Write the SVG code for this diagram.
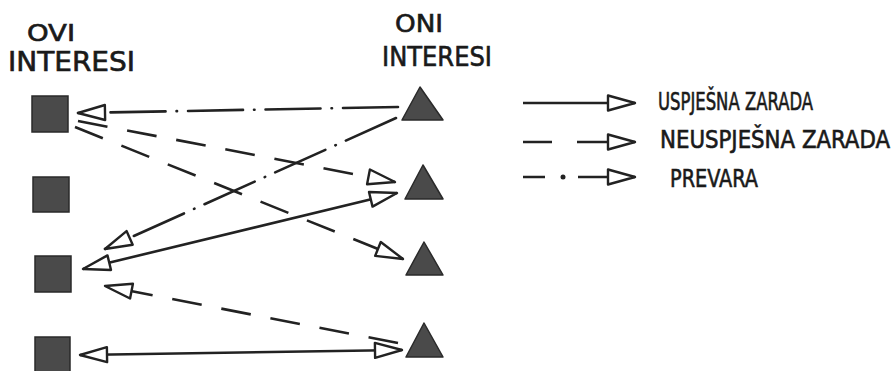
<svg xmlns="http://www.w3.org/2000/svg" width="895" height="371" viewBox="0 0 895 371">
<style>
  .lbl{font-family:"DejaVu Sans Condensed","DejaVu Sans",sans-serif;fill:#1a1a1a;stroke:#1a1a1a;stroke-width:0.6}
  .sq{fill:#4a4a4a;stroke:#2a2a2a;stroke-width:1.5}
  .tri{fill:#4a4a4a;stroke:#2a2a2a;stroke-width:1.5;stroke-linejoin:round}
  .c{fill:none;stroke:#222;stroke-width:2.6}
  .dash{stroke-dasharray:30 20}
  .dd{stroke-dasharray:55 11 0.5 11;stroke-linecap:round}
</style>
<defs>
  <marker id="ah" markerUnits="userSpaceOnUse" markerWidth="40" markerHeight="24" refX="32" refY="12" orient="auto-start-reverse" overflow="visible">
    <path d="M32,12 L5,4.5 L5,19.5 Z" fill="#fff" stroke="#222" stroke-width="2.4" stroke-linejoin="round"/>
  </marker>
</defs>

<g id="title-ovi">
  <text class="lbl" x="27" y="41" font-size="23" textLength="48" lengthAdjust="spacingAndGlyphs">OVI</text>
  <text class="lbl" x="8" y="71" font-size="27" textLength="127" lengthAdjust="spacingAndGlyphs">INTERESI</text>
</g>
<g id="title-oni">
  <text class="lbl" x="395" y="32" font-size="25" textLength="48" lengthAdjust="spacingAndGlyphs">ONI</text>
  <text class="lbl" x="382" y="66" font-size="27" textLength="110" lengthAdjust="spacingAndGlyphs">INTERESI</text>
</g>

<g id="s1"><rect class="sq" x="32" y="96" width="36" height="36"/></g>
<g id="s2"><rect class="sq" x="33" y="177" width="36" height="35"/></g>
<g id="s3"><rect class="sq" x="35" y="256" width="36" height="36"/></g>
<g id="s4"><rect class="sq" x="35" y="337" width="35" height="36"/></g>

<g id="t1"><polygon class="tri" points="420,87 402,120 443,120"/></g>
<g id="t2"><polygon class="tri" points="423,165 405,199 443,199"/></g>
<g id="t3"><polygon class="tri" points="424,242 406,275 443,275"/></g>
<g id="t4"><polygon class="tri" points="424,323 406,357 443,357"/></g>

<g id="connectors">
  <path class="c dd" d="M398,107 L78,113" marker-end="url(#ah)"/>
  <path class="c dash" d="M78,121 L395,182" marker-end="url(#ah)"/>
  <path class="c dash" d="M75,127 L403,259" marker-end="url(#ah)"/>
  <path class="c dd" d="M396,118 L105,249" marker-end="url(#ah)"/>
  <path class="c" d="M83,269 L397,193" marker-start="url(#ah)" marker-end="url(#ah)"/>
  <path class="c dash" d="M398,343 L105,286" marker-end="url(#ah)"/>
  <path class="c" d="M80,355 L402,350" marker-start="url(#ah)" marker-end="url(#ah)"/>
</g>

<g id="legend">
  <g id="leg-solid">
    <path class="c" d="M523,103 L635,103" marker-end="url(#ah)"/>
    <text class="lbl" x="658" y="110" font-size="25" textLength="155" lengthAdjust="spacingAndGlyphs">USPJEŠNA ZARADA</text>
  </g>
  <g id="leg-dash">
    <path class="c" d="M523,142 L552,142 M577,142 L635,142" marker-end="url(#ah)"/>
    <text class="lbl" x="660" y="148" font-size="24" textLength="230" lengthAdjust="spacingAndGlyphs">NEUSPJEŠNA ZARADA</text>
  </g>
  <g id="leg-dd">
    <path class="c" d="M523,177 L545,177 M578,177 L635,177" marker-end="url(#ah)"/>
    <circle cx="563" cy="177" r="2.5" fill="#222"/>
    <text class="lbl" x="670" y="187" font-size="25" textLength="88" lengthAdjust="spacingAndGlyphs">PREVARA</text>
  </g>
</g>
</svg>
